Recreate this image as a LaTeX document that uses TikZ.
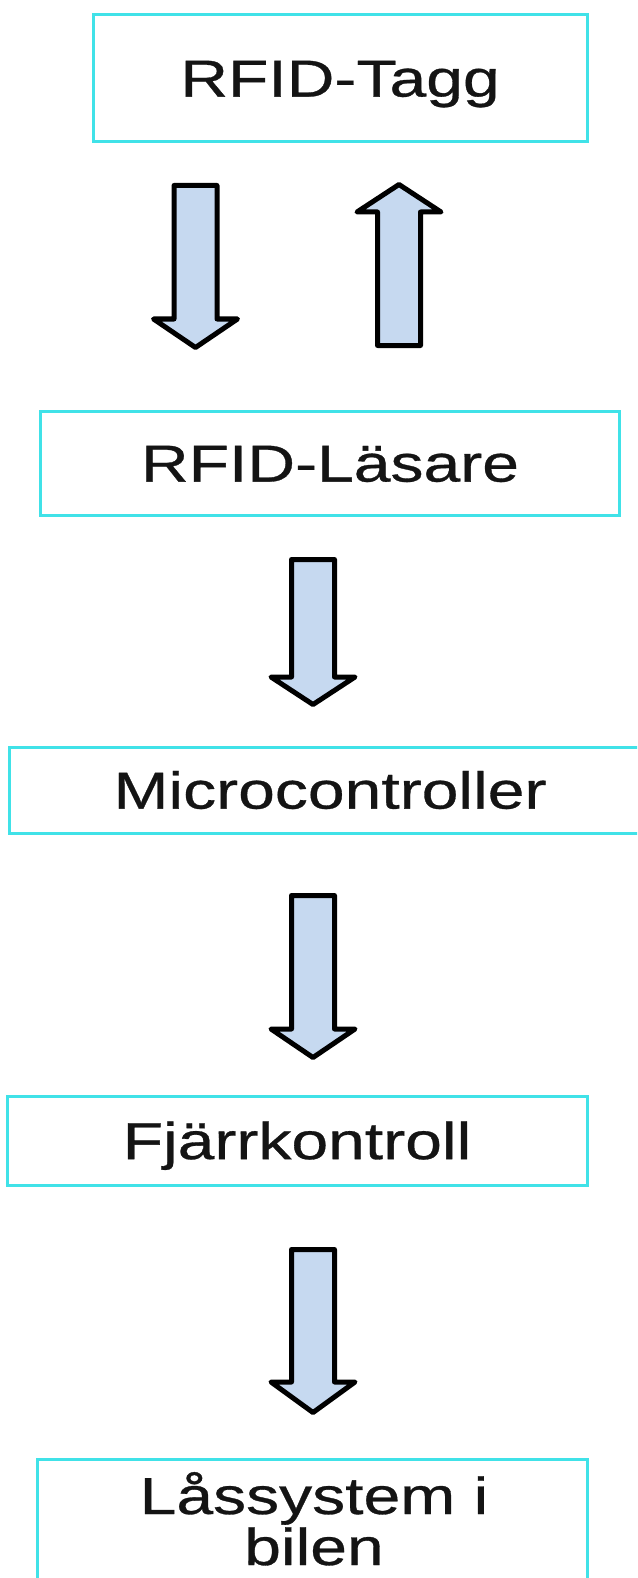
\documentclass[tikz,border=0pt]{standalone}
\usepackage{fontspec}
\setmainfont[FakeStretch=1.27,FakeBold=0.6]{Liberation Sans}
\definecolor{boxcyan}{RGB}{64,226,232}
\definecolor{arrowfill}{RGB}{198,217,240}
\definecolor{textgray}{RGB}{20,20,20}
% block arrow: centre x, shaft end y, head base y, tip y
\newcommand\blockarr[4]{%
  \draw[blockarrow] ({#1-21.5},#2) -- ({#1+21.5},#2) -- ({#1+21.5},#3) -- ({#1+42},#3)
    -- (#1,#4) -- ({#1-42},#3) -- ({#1-21.5},#3) -- cycle;}
\begin{document}
\begin{tikzpicture}[x=1pt,y=-1pt,
  lblfont/.style={font=\fontsize{52}{51}\selectfont, text=textgray},
  box/.style={draw=boxcyan, line width=3pt, rectangle, inner sep=0pt,
    lblfont, text height=37.2pt, text depth=0pt},
  blockarrow/.style={draw=black, line width=5pt, fill=arrowfill, line join=round}]
\clip (0,0) rectangle (637,1578);
\fill[white] (0,0) rectangle (637,1578);

\node[box, minimum width=494, minimum height=127] (tag) at (340,78) {RFID-Tagg};
\node[box, minimum width=579, minimum height=104] (reader) at (330,463) {RFID-Läsare};
\node[box, minimum width=642, minimum height=86] (mcu) at (330,790) {Microcontroller};
\node[box, minimum width=580, minimum height=89] (remote) at (297,1140.5) {Fjärrkontroll};
\node[box, minimum width=550, minimum height=200, anchor=north] (lock) at (312,1458) {};
\node[lblfont, anchor=base, inner sep=0pt] (locktext) at (314,1514)
  {\vtop{\baselineskip=51pt\halign{\hfil#\hfil\cr Låssystem i\cr bilen\cr}}};

\blockarr{195.5}{185.5}{319}{347.5}
\blockarr{399}{345.5}{212}{184.5}
\blockarr{313}{559.5}{677}{704.5}
\blockarr{313}{895.5}{1029}{1057.5}
\blockarr{313}{1249.5}{1382}{1412.5}
\end{tikzpicture}
\end{document}
